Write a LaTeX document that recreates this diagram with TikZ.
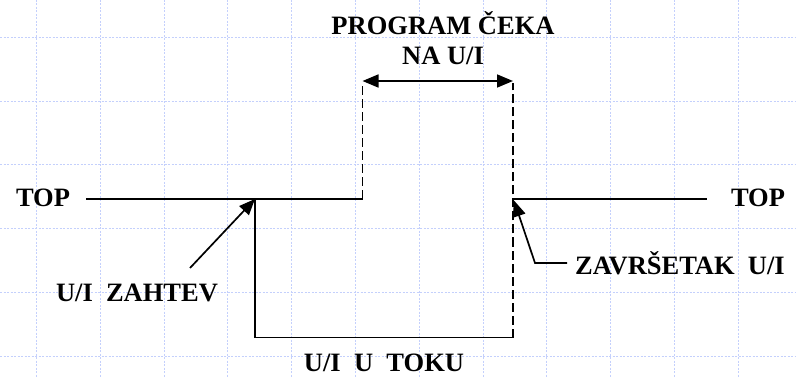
\documentclass[tikz,border=0pt]{standalone}
\usepackage{fontspec}
\setmainfont{Liberation Serif}
\usetikzlibrary{arrows.meta}
\definecolor{gridblue}{RGB}{196,208,252}
\tikzset{
  lbl/.style={font=\fontsize{26.5}{30}\selectfont\bfseries, inner sep=0pt, align=center},
  sig/.style={line width=1.7pt, black},
  sigdash/.style={line width=1.7pt, black, dash pattern=on 9pt off 4pt},
  gridline/.style={gridblue, line width=1pt, dash pattern=on 2pt off 1.5pt},
  tip/.style={-{Triangle[length=16pt,width=13pt]}},
  dtip/.style={{Triangle[length=16pt,width=13pt]}-{Triangle[length=16pt,width=13pt]}}
}
\begin{document}
\begin{tikzpicture}[x=1pt,y=-1pt]
\useasboundingbox (0,0) rectangle (796,377);
% grid
\foreach \k in {0,...,12} {
  \draw[gridline] ({36.5+63.8*\k},0) -- ({36.5+63.8*\k},377);
}
\foreach \k in {0,...,5} {
  \draw[gridline] (0,{37.3+63.8*\k}) -- (796,{37.3+63.8*\k});
}
% coordinates
\coordinate (a) at (86,199);
\coordinate (b) at (255,199);
\coordinate (c) at (362.5,199);
\coordinate (d) at (362.5,81);
\coordinate (dd) at (362.5,83);
\coordinate (e) at (513,81);
\coordinate (ee) at (513,83);
\coordinate (f) at (513,199);
\coordinate (g) at (513,337.5);
\coordinate (h) at (255,337.5);
\coordinate (i) at (707,199);
\coordinate (zs) at (190,268);
\coordinate (ks) at (567,263);
\coordinate (kb) at (535,263);
\coordinate (kt) at (514,200.5);
% labels
\node[lbl] (topL) at (43,198) {TOP};
\node[lbl] (topR) at (758,198) {TOP};
\node[lbl] (wait) at (443,38) {PROGRAM ČEKA\\NA U/I};
\node[lbl] (req) at (137,293) {U/I\ \ ZAHTEV};
\node[lbl, anchor=west] (done) at (575,263) {ZAVRŠETAK\ \ U/I};
\node[lbl] (busy) at (384,363) {U/I\ \ U\ \ TOKU};
% signal lines
\draw[sig] (a) -- (c);
\draw[sig] (b) -- (h) -- (g);
\draw[sig] (f) -- (i);
\draw[sigdash] (c) -- (dd);
\draw[sigdash] (g) -- (ee);
\draw[sig, dtip] (d) -- (e);
% pointers
\draw[sig, tip] (zs) -- (b);
\draw[sig, tip] (ks) -- (kb) -- (kt);
\end{tikzpicture}
\end{document}
